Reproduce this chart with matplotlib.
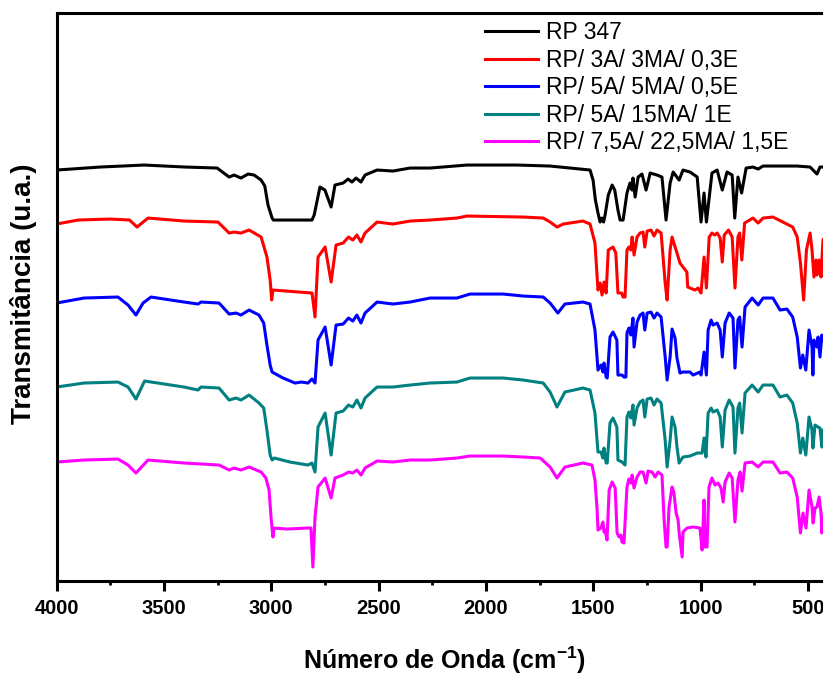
import matplotlib
matplotlib.use("Agg")
import matplotlib.pyplot as plt
from matplotlib.ticker import MultipleLocator

plt.rcParams['font.family'] = ['Liberation Sans', 'DejaVu Sans']
plt.rcParams['mathtext.fontset'] = 'custom'
plt.rcParams['mathtext.rm'] = 'Liberation Sans'
plt.rcParams['mathtext.bf'] = 'Liberation Sans:bold'

# FTIR spectra, (wavenumber cm-1, transmittance a.u.) - curves are stacked
rp347 = [(4000, 41.1), (3797, 41.4), (3592, 41.6), (3400, 41.4), (3252, 41.3), (3196, 40.4),
         (3173, 40.6), (3141, 40.3), (3108, 40.7), (3080, 40.6), (3047, 40.1), (3030, 39.5),
         (3015, 37.6), (2996, 36.3), (2990, 36.1), (2810, 36.1), (2800, 36.6), (2773, 39.4),
         (2750, 39.1), (2721, 37.4), (2703, 39.6), (2665, 39.8), (2642, 40.2), (2624, 39.9),
         (2605, 40.3), (2582, 39.9), (2563, 40.6), (2507, 41.1), (2433, 41.0), (2353, 41.3),
         (2260, 41.3), (2088, 41.6), (1855, 41.6), (1701, 41.5), (1561, 41.2), (1515, 41.1),
         (1501, 40.1), (1490, 38.1), (1478, 36.8), (1468, 35.9), (1460, 36.3), (1452, 35.9),
         (1445, 36.6), (1430, 38.6), (1412, 39.6), (1400, 39.1), (1385, 37.1), (1375, 36.1),
         (1361, 36.1), (1343, 38.8), (1329, 39.8), (1319, 39.1), (1315, 40.3), (1305, 38.4),
         (1291, 40.4), (1273, 40.7), (1254, 39.1), (1235, 40.8), (1203, 40.6), (1180, 40.4),
         (1161, 36.1), (1142, 39.8), (1128, 40.9), (1100, 40.1), (1082, 41.1), (1049, 40.9),
         (1016, 40.4), (998, 35.9), (984, 38.8), (973, 35.9), (947, 40.8), (923, 41.1),
         (899, 39.1), (877, 40.9), (853, 40.6), (841, 36.3), (826, 40.4), (809, 38.8),
         (788, 41.3), (756, 41.4), (732, 41.2), (709, 41.5), (551, 41.5), (490, 41.4),
         (458, 40.7), (444, 41.4), (400, 41.4)]

rp_3a = [(4000, 35.7), (3900, 36.1), (3750, 36.2), (3660, 36.1), (3625, 35.4), (3574, 36.3),
         (3406, 36.0), (3248, 35.9), (3196, 34.8), (3173, 34.9), (3141, 34.8), (3103, 35.1),
         (3047, 34.4), (3020, 32.4), (3005, 30.1), (2998, 28.1), (2992, 29.1), (2810, 28.8),
         (2796, 26.4), (2782, 32.4), (2749, 33.4), (2721, 29.9), (2698, 33.6), (2665, 33.8),
         (2640, 34.4), (2620, 34.1), (2601, 34.6), (2582, 33.9), (2563, 34.8), (2507, 35.9),
         (2433, 35.7), (2353, 36.0), (2260, 36.1), (2135, 36.3), (2088, 36.5), (1827, 36.4),
         (1733, 36.3), (1701, 35.9), (1669, 35.4), (1640, 35.7), (1548, 36.0), (1515, 35.7),
         (1492, 33.8), (1478, 29.1), (1468, 29.8), (1459, 28.6), (1450, 29.9), (1440, 28.8),
         (1430, 33.1), (1408, 33.4), (1395, 32.8), (1385, 28.8), (1368, 28.8), (1361, 28.4),
         (1352, 28.4), (1343, 33.1), (1334, 33.4), (1325, 33.1), (1319, 34.4), (1310, 32.6),
         (1296, 34.4), (1282, 34.8), (1268, 34.9), (1260, 33.4), (1249, 35.0), (1231, 35.1),
         (1217, 34.5), (1203, 35.1), (1184, 34.8), (1165, 29.8), (1156, 28.1), (1142, 33.1),
         (1133, 34.4), (1110, 32.8), (1096, 31.8), (1082, 31.4), (1064, 30.9), (1060, 29.4),
         (1049, 29.3), (1026, 29.1), (1012, 29.3), (998, 28.8), (984, 32.4), (973, 29.3),
         (960, 34.4), (947, 34.8), (935, 34.6), (923, 34.8), (909, 34.3), (899, 31.9),
         (890, 34.6), (870, 35.1), (853, 34.4), (840, 29.3), (826, 34.4), (818, 34.8),
         (808, 32.1), (795, 35.8), (756, 36.3), (732, 35.8), (709, 36.3), (663, 36.4),
         (617, 35.9), (571, 35.4), (550, 34.4), (535, 31.8), (520, 28.1), (507, 33.1),
         (490, 34.8), (481, 33.1), (472, 30.4), (462, 32.1), (458, 30.6), (448, 32.1),
         (439, 30.4), (430, 34.1), (400, 35.1)]

rp_5a = [(4000, 27.8), (3872, 28.3), (3714, 28.4), (3667, 27.6), (3630, 26.6), (3597, 27.8),
         (3560, 28.4), (3406, 27.9), (3341, 27.7), (3327, 27.9), (3243, 27.8), (3196, 26.7),
         (3164, 26.8), (3141, 26.6), (3103, 27.1), (3057, 26.6), (3035, 25.8), (3020, 23.6),
         (3005, 21.6), (2996, 20.9), (2945, 20.3), (2889, 19.8), (2860, 19.9), (2829, 19.8),
         (2810, 20.2), (2796, 19.8), (2782, 24.1), (2749, 25.4), (2721, 21.6), (2698, 25.6),
         (2665, 25.7), (2640, 26.3), (2620, 26.0), (2601, 26.6), (2582, 25.8), (2563, 26.8),
         (2507, 27.9), (2433, 27.7), (2353, 27.9), (2260, 28.3), (2135, 28.3), (2074, 28.7),
         (1920, 28.7), (1827, 28.5), (1733, 28.4), (1701, 27.8), (1665, 26.8), (1632, 27.7),
         (1548, 27.9), (1515, 27.7), (1492, 25.1), (1478, 21.1), (1464, 21.6), (1455, 20.9),
         (1450, 21.8), (1440, 20.4), (1435, 20.3), (1422, 24.4), (1408, 24.9), (1390, 24.1),
         (1385, 20.6), (1366, 20.6), (1357, 20.4), (1348, 20.4), (1343, 24.8), (1334, 25.3),
         (1325, 24.6), (1315, 26.3), (1310, 23.4), (1296, 25.9), (1282, 26.6), (1268, 26.8),
         (1260, 25.1), (1249, 26.8), (1231, 26.9), (1217, 26.3), (1203, 26.8), (1184, 26.4),
         (1165, 22.4), (1156, 20.1), (1142, 22.4), (1133, 25.2), (1119, 24.3), (1110, 22.3),
         (1096, 20.8), (1082, 20.9), (1049, 20.9), (1035, 20.6), (1003, 20.9), (998, 20.6),
         (984, 22.9), (973, 20.6), (965, 25.1), (951, 26.1), (942, 25.6), (923, 25.8),
         (909, 25.1), (899, 22.4), (886, 25.8), (867, 26.8), (849, 26.3), (840, 21.3),
         (826, 26.1), (818, 26.4), (807, 23.4), (793, 27.4), (760, 28.3), (732, 27.6),
         (709, 28.3), (663, 28.3), (630, 27.1), (598, 27.2), (571, 26.4), (550, 24.4),
         (535, 21.3), (524, 22.6), (510, 21.1), (495, 25.1), (481, 23.4), (477, 20.6),
         (472, 24.1), (458, 23.4), (453, 24.4), (444, 22.4), (435, 24.6), (430, 24.1),
         (400, 24.6)]

rp_5a_15ma = [(4000, 19.4), (3872, 19.8), (3714, 19.9), (3667, 19.4), (3630, 18.2), (3590, 20.0),
              (3406, 19.4), (3341, 19.1), (3327, 19.4), (3243, 19.3), (3196, 18.1), (3164, 18.3),
              (3141, 18.1), (3103, 18.6), (3057, 17.8), (3035, 17.3), (3020, 15.1), (3005, 12.6),
              (2996, 12.1), (2985, 12.3), (2913, 11.9), (2829, 11.6), (2810, 11.8), (2796, 10.9),
              (2782, 15.4), (2749, 16.8), (2721, 12.6), (2698, 16.8), (2665, 17.0), (2640, 17.6),
              (2620, 17.4), (2601, 18.1), (2582, 17.3), (2563, 18.3), (2507, 19.4), (2433, 19.4),
              (2353, 19.6), (2260, 19.8), (2135, 19.9), (2074, 20.3), (1920, 20.3), (1827, 20.1),
              (1733, 19.8), (1701, 18.9), (1669, 17.4), (1632, 18.9), (1548, 19.3), (1515, 19.1),
              (1492, 16.8), (1478, 12.9), (1464, 12.9), (1455, 12.3), (1450, 13.3), (1440, 11.8),
              (1435, 11.8), (1422, 15.8), (1408, 16.3), (1390, 15.4), (1385, 12.1), (1366, 11.9),
              (1352, 11.6), (1343, 16.4), (1334, 16.9), (1325, 16.3), (1315, 17.6), (1310, 15.6),
              (1296, 17.3), (1282, 17.9), (1268, 18.1), (1260, 16.4), (1249, 18.2), (1231, 18.3),
              (1217, 17.6), (1203, 18.2), (1184, 17.8), (1165, 14.1), (1156, 11.4), (1142, 14.1),
              (1133, 16.4), (1119, 15.4), (1110, 13.4), (1100, 11.8), (1082, 12.4), (1049, 12.5),
              (1016, 12.8), (993, 12.8), (984, 14.3), (975, 12.4), (965, 16.8), (951, 17.3),
              (942, 16.9), (923, 17.1), (909, 16.4), (899, 13.4), (886, 17.1), (867, 18.1),
              (849, 17.4), (840, 12.8), (826, 17.3), (818, 17.8), (807, 14.8), (793, 18.8),
              (760, 19.6), (732, 18.9), (709, 19.6), (663, 19.6), (630, 18.4), (598, 18.6),
              (571, 17.8), (550, 15.8), (535, 12.8), (524, 14.3), (510, 12.6), (495, 16.4),
              (481, 15.1), (477, 13.3), (467, 15.6), (453, 15.4), (444, 15.3), (435, 13.4),
              (430, 15.1), (400, 15.6)]

rp_7a = [(4000, 11.9), (3872, 12.1), (3714, 12.2), (3667, 11.6), (3630, 10.8), (3574, 12.1),
         (3406, 11.8), (3327, 11.7), (3243, 11.6), (3196, 11.1), (3173, 11.3), (3141, 11.1),
         (3103, 11.4), (3047, 10.9), (3025, 10.3), (3010, 9.1), (3001, 6.4), (2992, 4.4),
         (2987, 5.3), (2927, 5.2), (2829, 5.3), (2815, 5.3), (2806, 1.4), (2796, 6.4),
         (2782, 9.4), (2749, 10.3), (2721, 8.3), (2703, 10.3), (2665, 10.6), (2640, 10.9),
         (2620, 10.8), (2601, 11.1), (2582, 10.6), (2563, 11.3), (2507, 12.0), (2433, 11.9),
         (2353, 12.1), (2260, 12.1), (2135, 12.3), (2074, 12.5), (1920, 12.5), (1827, 12.4),
         (1747, 12.3), (1701, 11.4), (1669, 10.3), (1632, 11.4), (1548, 11.8), (1506, 11.6),
         (1492, 10.1), (1482, 7.1), (1478, 5.1), (1464, 5.3), (1455, 5.9), (1450, 4.9),
         (1445, 5.1), (1436, 4.1), (1426, 9.1), (1412, 9.9), (1398, 9.3), (1389, 4.8),
         (1380, 4.4), (1371, 4.6), (1366, 3.9), (1357, 3.8), (1343, 9.4), (1334, 10.2),
         (1324, 9.8), (1319, 10.6), (1310, 9.3), (1296, 10.4), (1282, 10.9), (1268, 10.9),
         (1254, 9.8), (1245, 11.0), (1226, 10.9), (1212, 10.4), (1198, 10.9), (1180, 10.6),
         (1170, 6.1), (1161, 3.4), (1156, 3.4), (1147, 7.4), (1133, 9.4), (1124, 8.8),
         (1114, 6.8), (1105, 6.1), (1100, 4.8), (1086, 2.4), (1082, 4.9), (1063, 5.3),
         (1035, 5.4), (1003, 5.3), (993, 3.1), (984, 8.1), (979, 3.4), (970, 3.4),
         (961, 9.4), (947, 10.3), (933, 9.6), (919, 9.8), (905, 9.3), (895, 7.9),
         (886, 9.9), (867, 10.8), (853, 10.3), (840, 5.9), (826, 10.1), (816, 10.9),
         (807, 9.0), (793, 11.8), (760, 11.9), (732, 11.4), (709, 11.9), (663, 11.9),
         (630, 10.8), (598, 10.9), (571, 10.3), (550, 8.4), (535, 4.8), (523, 6.8),
         (509, 5.3), (495, 9.1), (481, 7.4), (476, 5.8), (467, 7.3), (458, 7.4),
         (448, 8.4), (439, 6.8), (435, 4.8), (430, 6.4), (400, 7.1)]

labels = ['RP 347', 'RP/ 3A/ 3MA/ 0,3E', 'RP/ 5A/ 5MA/ 0,5E',
          'RP/ 5A/ 15MA/ 1E', 'RP/ 7,5A/ 22,5MA/ 1,5E']
colors = ['#000000', '#ff0000', '#0000ff', '#008080', '#ff00ff']
spectra = [rp347, rp_3a, rp_5a, rp_5a_15ma, rp_7a]

fig = plt.figure(figsize=(8.23, 6.76), dpi=100, facecolor='w')
# right edge of the frame runs past the figure border
ax = fig.add_axes([0.0687, 0.1405, 0.9391, 0.8402])

for data, lab, c in zip(spectra, labels, colors):
    w = [p[0] for p in data]
    t = [p[1] for p in data]
    ax.plot(w, t, color=c, lw=2.2, label=lab, solid_joinstyle='round')

ax.set_xlim(4000, 400)
ax.set_ylim(0, 56.8)
ax.xaxis.set_major_locator(MultipleLocator(500))
ax.xaxis.set_minor_locator(MultipleLocator(250))
ax.set_yticks([])
ax.tick_params(axis='x', which='major', direction='out', length=7, width=2.2,
               labelsize=14.5, pad=6, top=False)
ax.tick_params(axis='x', which='minor', direction='out', length=3, width=2, top=False)
for lbl in ax.get_xticklabels():
    lbl.set_fontweight('bold')
for s in ax.spines.values():
    s.set_linewidth(2.2)

fig.text(0.5395, 1 - 660 / 676, r'Número de Onda (cm$^{\mathbf{-1}}$)',
         ha='center', va='center', fontsize=18, fontweight='bold')
fig.text(24 / 823, 1 - 294 / 676, 'Transmitância (u.a.)', rotation=90,
         ha='center', va='center', fontsize=20, fontweight='bold')

leg = ax.legend(loc='upper left', bbox_to_anchor=(485 / 823, 1 - 21 / 676),
                bbox_transform=fig.transFigure, frameon=False, fontsize=16.5,
                handlelength=2.3, handletextpad=0.35, labelspacing=0.2,
                borderpad=0, borderaxespad=0)
for line in leg.get_lines():
    line.set_linewidth(2.2)

fig.savefig('out.png', dpi=100)
